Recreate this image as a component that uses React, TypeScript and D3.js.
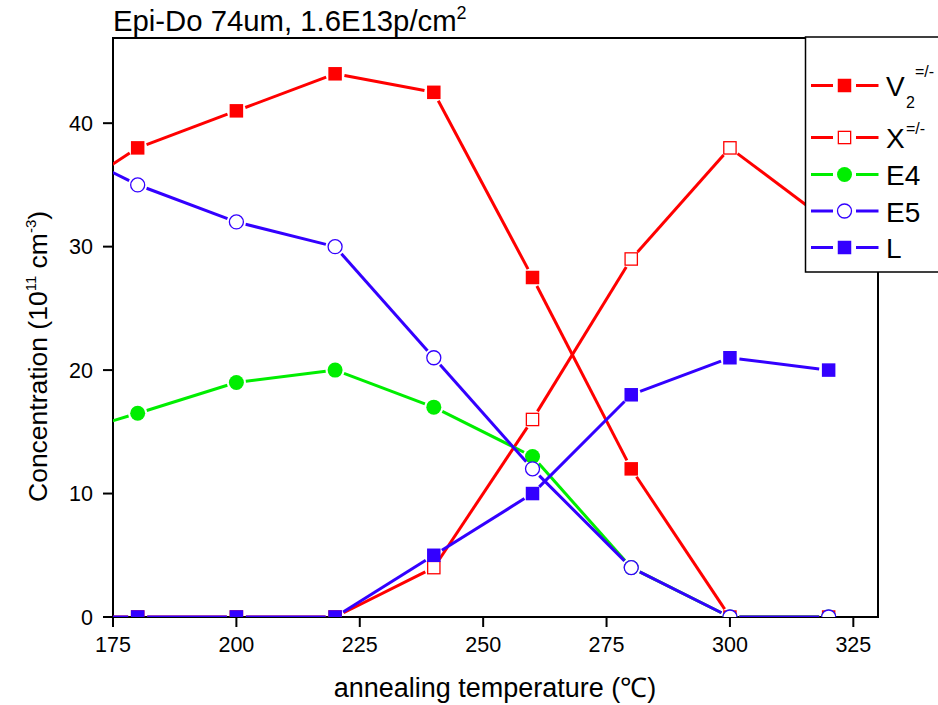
import React from "react";
import * as d3 from "d3";

// Annealing temperatures (°C); the first entry lies left of the visible axis range
const temperatures = [160, 180, 200, 220, 240, 260, 280, 300, 320];

// Concentrations in 1e11 cm^-3
const v2Values = [32.8, 38, 41, 44, 42.5, 27.5, 12, 0, 0];
const xValues = [0, 0, 0, 0, 4, 16, 29, 38, 32];
const e4Values = [14.1, 16.5, 19, 20, 17, 13, 4, 0, 0];
const e5Values = [39, 35, 32, 30, 21, 12, 4, 0, 0];
const lValues = [0, 0, 0, 0, 5, 10, 18, 21, 20];

const xTicks = [175, 200, 225, 250, 275, 300, 325];
const yTicks = [0, 10, 20, 30, 40];

const RED = "#ff0000";
const GREEN = "#00ee00";
const BLUE = "#3300ff";

type Marker = "square" | "openSquare" | "circle" | "openCircle";

const seriesList: { key: string; values: number[]; color: string; marker: Marker }[] = [
  { key: "V2", values: v2Values, color: RED, marker: "square" },
  { key: "X", values: xValues, color: RED, marker: "openSquare" },
  { key: "E4", values: e4Values, color: GREEN, marker: "circle" },
  { key: "E5", values: e5Values, color: BLUE, marker: "openCircle" },
  { key: "L", values: lValues, color: BLUE, marker: "square" },
];

const W = 938;
const H = 705;
const plot = { left: 113, right: 878, top: 38, bottom: 617 };
const FONT = "'Liberation Sans', Arial, Helvetica, sans-serif";

const xScale = d3.scaleLinear().domain([175, 330]).range([plot.left, plot.right]);
const yScale = d3.scaleLinear().domain([0, 46.9]).range([plot.bottom, plot.top]);

const GAP = 9.5;
const LINE_W = 3;

function MarkerShape({ type, x, y, color }: { type: Marker; x: number; y: number; color: string }) {
  const s = 13.5;
  if (type === "square")
    return <rect x={x - s / 2} y={y - s / 2} width={s} height={s} fill={color} />;
  if (type === "openSquare")
    return (
      <rect x={x - s / 2 + 0.6} y={y - s / 2 + 0.6} width={s - 1.2} height={s - 1.2} fill="#fff" stroke={color} strokeWidth={1.3} />
    );
  if (type === "circle") return <circle cx={x} cy={y} r={7.5} fill={color} />;
  return <circle cx={x} cy={y} r={7} fill="#fff" stroke={color} strokeWidth={1.3} />;
}

function Series({ values, color, marker }: { values: number[]; color: string; marker: Marker }) {
  const pts = temperatures.map((t, i) => [xScale(t), yScale(values[i])] as [number, number]);
  const segs: React.ReactNode[] = [];
  for (let i = 0; i < pts.length - 1; i++) {
    const [x0, y0] = pts[i];
    const [x1, y1] = pts[i + 1];
    const len = Math.hypot(x1 - x0, y1 - y0);
    if (len <= 2 * GAP) continue;
    const ux = (x1 - x0) / len;
    const uy = (y1 - y0) / len;
    segs.push(
      <line
        key={i}
        x1={x0 + ux * GAP}
        y1={y0 + uy * GAP}
        x2={x1 - ux * GAP}
        y2={y1 - uy * GAP}
        stroke={color}
        strokeWidth={LINE_W}
      />
    );
  }
  return (
    <g>
      {segs}
      {pts.map(([x, y], i) => (
        <MarkerShape key={i} type={marker} x={x} y={y} color={color} />
      ))}
    </g>
  );
}

export default function App() {
  const legendX = 805.5;
  const legendTop = 37;
  const legendBottom = 272;
  const legendRows = [85.5, 137.5, 174.5, 211, 247.5];

  return (
    <svg
      width={W}
      height={H}
      viewBox={`0 0 ${W} ${H}`}
      style={{ position: "absolute", left: 0, top: 0, background: "#fff", fontFamily: FONT }}
    >
      <defs>
        <clipPath id="plotClip">
          <rect x={plot.left} y={plot.top} width={plot.right - plot.left} height={plot.bottom - plot.top} />
        </clipPath>
      </defs>
      <rect x={0} y={0} width={W} height={H} fill="#fff" />

      {/* frame */}
      <g stroke="#000" strokeWidth={2} fill="none">
        <line x1={plot.left} y1={plot.top} x2={plot.left} y2={plot.bottom + 1} />
        <line x1={plot.left - 1} y1={plot.bottom} x2={plot.right + 1} y2={plot.bottom} />
        <line x1={plot.left - 1} y1={plot.top} x2={legendX} y2={plot.top} />
        <line x1={plot.right} y1={legendBottom} x2={plot.right} y2={plot.bottom} />
      </g>

      {/* x axis ticks */}
      <g>
        {xTicks.map((t) => (
          <g key={t}>
            <line x1={xScale(t)} x2={xScale(t)} y1={plot.bottom} y2={plot.bottom + 10} stroke="#000" strokeWidth={2} />
            <text x={xScale(t)} y={652} textAnchor="middle" fontSize={21.5} fill="#000">
              {t}
            </text>
          </g>
        ))}
      </g>

      {/* y axis ticks */}
      <g>
        {yTicks.map((t) => (
          <g key={t}>
            <line x1={plot.left - 10} x2={plot.left} y1={yScale(t)} y2={yScale(t)} stroke="#000" strokeWidth={2} />
            <text x={93} y={yScale(t) + 7.7} textAnchor="end" fontSize={21.5} fill="#000">
              {t}
            </text>
          </g>
        ))}
      </g>

      {/* data */}
      <g clipPath="url(#plotClip)">
        {seriesList.map((s) => (
          <Series key={s.key} values={s.values} color={s.color} marker={s.marker} />
        ))}
      </g>

      {/* title */}
      <text x={113} y={31} fontSize={29.3} fill="#000">
        Epi-Do 74um, 1.6E13p/cm
        <tspan dy={-12} fontSize={18}>2</tspan>
      </text>

      {/* axis titles */}
      <text x={495} y={697} textAnchor="middle" fontSize={27} fill="#000">
        annealing temperature (℃)
      </text>
      <text transform="translate(47,502) rotate(-90)" textAnchor="start" fontSize={26.5} fill="#000">
        Concentration (10
        <tspan dy={-11} fontSize={15}>11</tspan>
        <tspan dy={11}> cm</tspan>
        <tspan dy={-11} fontSize={15}>-3</tspan>
        <tspan dy={11}>)</tspan>
      </text>

      {/* legend */}
      <g>
        <rect x={legendX} y={legendTop} width={W - legendX + 10} height={legendBottom - legendTop} fill="#fff" stroke="#000" strokeWidth={1.5} />
        {seriesList.map((s, i) => {
          const y = legendRows[i];
          return (
            <g key={s.key}>
              <line x1={811} x2={833} y1={y} y2={y} stroke={s.color} strokeWidth={LINE_W} />
              <line x1={856} x2={878.5} y1={y} y2={y} stroke={s.color} strokeWidth={LINE_W} />
              <MarkerShape type={s.marker} x={844.5} y={y} color={s.color} />
            </g>
          );
        })}
        <g fontSize={28} fill="#000">
          <text x={886} y={legendRows[0] + 10}>V</text>
          <text x={906} y={legendRows[0] + 22} fontSize={16}>2</text>
          <text x={915} y={legendRows[0] - 9} fontSize={16}>=/-</text>
          <text x={886} y={legendRows[1] + 10.5}>X</text>
          <text x={906} y={legendRows[1] - 4} fontSize={16}>=/-</text>
          <text x={886} y={legendRows[2] + 10.5}>E4</text>
          <text x={886} y={legendRows[3] + 10.5}>E5</text>
          <text x={886} y={legendRows[4] + 10.5}>L</text>
        </g>
      </g>
    </svg>
  );
}
